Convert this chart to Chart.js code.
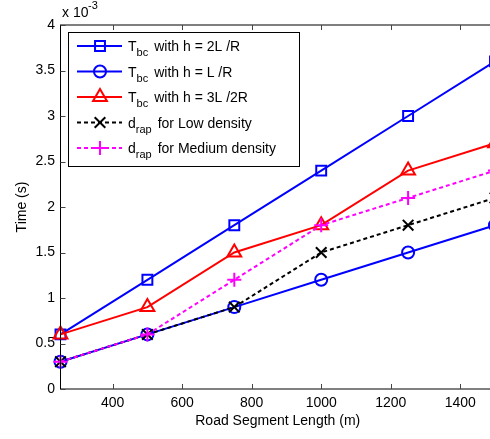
<!DOCTYPE html>
<html>
<head>
<meta charset="utf-8">
<script src="https://cdn.jsdelivr.net/npm/chart.js@4/dist/chart.umd.min.js"></script>
<style>
  html, body { margin: 0; padding: 0; background: #fff; overflow: hidden; }
</style>
</head>
<body>
<canvas id="myChart" width="496" height="439" style="width:496px;height:439px"></canvas>
<script>
// road segment length (m)
var lengths = [250, 500, 750, 1000, 1250, 1500]
var xTicks = [400, 600, 800, 1000, 1200, 1400]
// time values in units of 10^-3 s
var tbc2L = [0.6, 1.2, 1.8, 2.4, 3.0, 3.6]
var tbcL = [0.3, 0.6, 0.9, 1.2, 1.5, 1.8]
var tbc3L = [0.6, 0.9, 1.5, 1.8, 2.4, 2.7]
var drapLow = [0.3, 0.6, 0.9, 1.5, 1.8, 2.1]
var drapMed = [0.3, 0.6, 1.2, 1.8, 2.1, 2.4]

var legendNames = [
  ["T", "bc", "with h = 2L /R"],
  ["T", "bc", "with h = L /R"],
  ["T", "bc", "with h = 3L /2R"],
  ["d", "rap", "for Low density"],
  ["d", "rap", "for Medium density"]
]

function pts(arr) {
  return lengths.map(function(x, i) { return {x: x, y: arr[i]} })
}

var FONT = "'Liberation Sans', Arial, sans-serif"

var datasets = [
  {data: pts(tbc2L), borderColor: "#0000ff", pointStyle: "rect", pointRadius: 7, dash: []},
  {data: pts(tbcL), borderColor: "#0000ff", pointStyle: "circle", pointRadius: 6, dash: []},
  {data: pts(tbc3L), borderColor: "#ff0000", pointStyle: "triangle", pointRadius: 8, dash: []},
  {data: pts(drapLow), borderColor: "#000000", pointStyle: "crossRot", pointRadius: 7.5, dash: [4, 3]},
  {data: pts(drapMed), borderColor: "#ff00ff", pointStyle: "cross", pointRadius: 7, dash: [4, 3]}
].map(function(d, i) {
  return {
    data: d.data,
    borderColor: d.borderColor,
    backgroundColor: "rgba(0,0,0,0)",
    pointBorderColor: d.borderColor,
    pointBackgroundColor: "rgba(0,0,0,0)",
    pointStyle: d.pointStyle,
    pointRadius: d.pointRadius,
    pointBorderWidth: 2,
    borderWidth: 2,
    borderDash: d.dash,
    tension: 0,
    fill: false,
    clip: false,
    order: 5 - i
  }
})

// box around plot, inward ticks, legend and exponent label
var framePlugin = {
  id: "frame",
  afterDatasetsDraw: function(chart) {
    var ctx = chart.ctx
    var a = chart.chartArea
    var xs = chart.scales.x, ys = chart.scales.y
    ctx.save()
    ctx.strokeStyle = "#000"
    ctx.lineWidth = 1
    ctx.setLineDash([])
    ctx.strokeRect(a.left, a.top, a.right - a.left, a.bottom - a.top)
    ctx.strokeStyle = "#444"
    ctx.beginPath()
    xTicks.forEach(function(v) {
      var px = Math.round(xs.getPixelForValue(v)) + 0.5
      ctx.moveTo(px, a.bottom); ctx.lineTo(px, a.bottom - 5)
      ctx.moveTo(px, a.top); ctx.lineTo(px, a.top + 5)
    })
    ys.ticks.forEach(function(t) {
      var py = Math.round(ys.getPixelForValue(t.value)) + 0.5
      ctx.moveTo(a.left, py); ctx.lineTo(a.left + 5, py)
      ctx.moveTo(a.right, py); ctx.lineTo(a.right - 5, py)
    })
    ctx.stroke()

    // legend
    var lx = 68.5, ly = 32.5, lw = 231, lh = 134
    ctx.fillStyle = "#fff"
    ctx.fillRect(lx, ly, lw, lh)
    ctx.strokeStyle = "#000"
    ctx.strokeRect(lx, ly, lw, lh)
    legendNames.forEach(function(n, i) {
      var ds = chart.data.datasets[i]
      var y = 46 + i * 25.5
      ctx.strokeStyle = ds.borderColor
      ctx.lineWidth = 2
      ctx.setLineDash(ds.borderDash)
      ctx.beginPath()
      ctx.moveTo(77, y); ctx.lineTo(122, y)
      ctx.stroke()
      ctx.setLineDash([])
      ctx.fillStyle = "rgba(0,0,0,0)"
      Chart.helpers.drawPoint(ctx, {pointStyle: ds.pointStyle, radius: ds.pointRadius, borderWidth: 2, rotation: 0}, 100, y)
      ctx.fillStyle = "#000"
      ctx.textBaseline = "alphabetic"
      ctx.textAlign = "left"
      ctx.font = "14px " + FONT
      var tx = 128
      ctx.fillText(n[0], tx, y + 5)
      tx += ctx.measureText(n[0]).width
      ctx.font = "11px " + FONT
      ctx.fillText(n[1], tx, y + 10)
      tx += ctx.measureText(n[1]).width + 6
      ctx.font = "14px " + FONT
      ctx.fillText(n[2], tx, y + 5)
    })

    // exponent
    ctx.fillStyle = "#000"
    ctx.font = "14px " + FONT
    ctx.fillText("x 10", 62, 17)
    ctx.font = "11px " + FONT
    ctx.fillText("-3", 88, 9)
    ctx.restore()
  }
}

var chart = new Chart(document.getElementById("myChart").getContext("2d"), {
  type: "line",
  data: {datasets: datasets},
  options: {
    responsive: false,
    animation: false,
    devicePixelRatio: 1,
    layout: {autoPadding: false, padding: {top: 25, right: 1, left: 0, bottom: 0}},
    plugins: {legend: {display: false}, tooltip: {enabled: false}},
    scales: {
      x: {
        type: "linear",
        min: 250,
        max: 1500,
        grid: {display: false, drawTicks: false},
        border: {display: false},
        afterBuildTicks: function(s) { s.ticks = xTicks.map(function(v) { return {value: v} }) },
        afterFit: function(s) { s.height = 50 },
        ticks: {color: "#000", font: {family: FONT, size: 14}, padding: 6, maxRotation: 0,
          callback: function(v) { return String(v) }},
        title: {display: true, text: "Road Segment Length (m)", color: "#000",
          font: {family: FONT, size: 14}, padding: {top: 0, bottom: 9}}
      },
      y: {
        min: 0,
        max: 4,
        grid: {display: false, drawTicks: false},
        border: {display: false},
        afterFit: function(s) { s.width = 60.5 },
        ticks: {stepSize: 0.5, color: "#000", font: {family: FONT, size: 14}, padding: 5.5,
          callback: function(v) { return String(v) }},
        title: {display: true, text: "Time (s)", color: "#000",
          font: {family: FONT, size: 14}, padding: {top: 14, bottom: 0}}
      }
    }
  },
  plugins: [framePlugin]
})
</script>
</body>
</html>
